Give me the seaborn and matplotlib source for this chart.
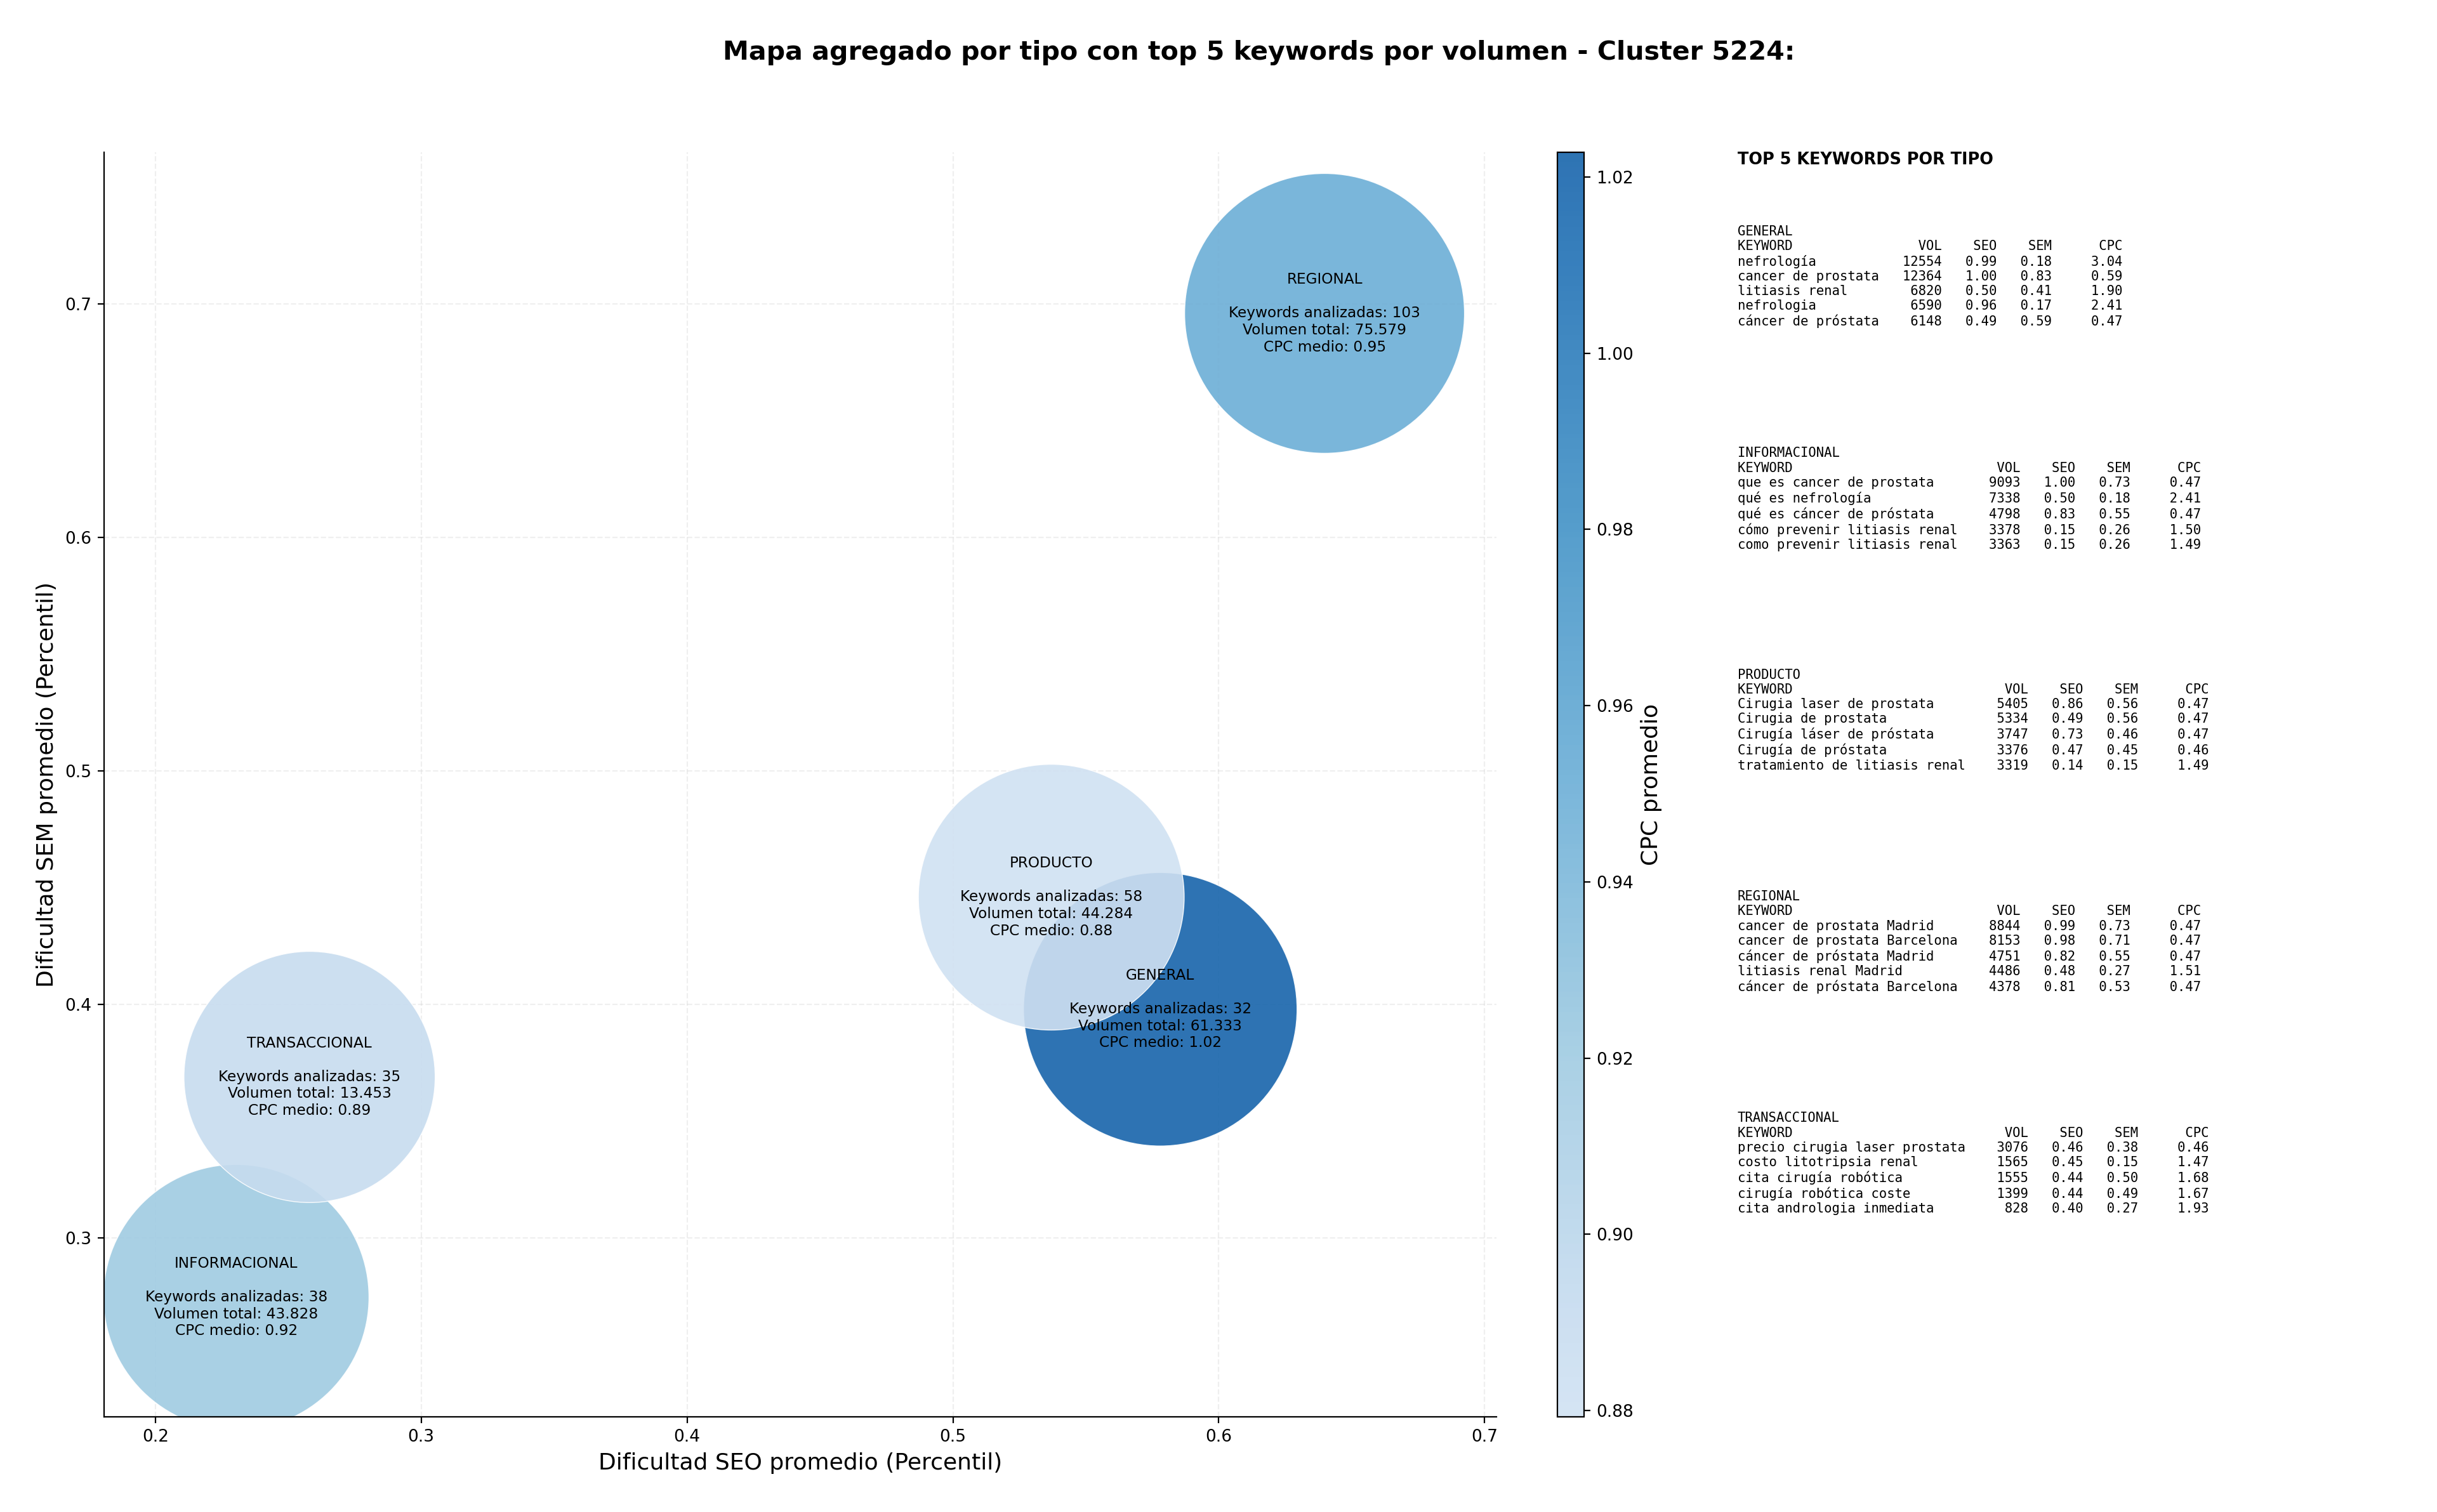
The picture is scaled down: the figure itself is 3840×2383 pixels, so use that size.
import numpy as np
import pandas as pd
import matplotlib
import matplotlib.pyplot as plt
import matplotlib.colors as mcolors
import seaborn as sns

# Datos agregados por tipo de keyword
TIPOS = ["GENERAL", "INFORMACIONAL", "PRODUCTO", "REGIONAL", "TRANSACCIONAL"]
SEO_MEDIO = [0.578, 0.2304, 0.537, 0.6398, 0.258]
SEM_MEDIO = [0.398, 0.2747, 0.446, 0.696, 0.369]
CPC_MEDIO = [1.0228, 0.92, 0.8793, 0.95, 0.89]
N_KEYWORDS = [32, 38, 58, 103, 35]
VOLUMEN = [61333, 43828, 44284, 75579, 13453]

# Top 5 keywords por tipo: (keyword, volumen, seo, sem, cpc)
TOP_GENERAL = [
    ("nefrología", 12554, 0.99, 0.18, 3.04),
    ("cancer de prostata", 12364, 1.00, 0.83, 0.59),
    ("litiasis renal", 6820, 0.50, 0.41, 1.90),
    ("nefrologia", 6590, 0.96, 0.17, 2.41),
    ("cáncer de próstata", 6148, 0.49, 0.59, 0.47),
]
TOP_INFORMACIONAL = [
    ("que es cancer de prostata", 9093, 1.00, 0.73, 0.47),
    ("qué es nefrología", 7338, 0.50, 0.18, 2.41),
    ("qué es cáncer de próstata", 4798, 0.83, 0.55, 0.47),
    ("cómo prevenir litiasis renal", 3378, 0.15, 0.26, 1.50),
    ("como prevenir litiasis renal", 3363, 0.15, 0.26, 1.49),
]
TOP_PRODUCTO = [
    ("Cirugia laser de prostata", 5405, 0.86, 0.56, 0.47),
    ("Cirugia de prostata", 5334, 0.49, 0.56, 0.47),
    ("Cirugía láser de próstata", 3747, 0.73, 0.46, 0.47),
    ("Cirugía de próstata", 3376, 0.47, 0.45, 0.46),
    ("tratamiento de litiasis renal", 3319, 0.14, 0.15, 1.49),
]
TOP_REGIONAL = [
    ("cancer de prostata Madrid", 8844, 0.99, 0.73, 0.47),
    ("cancer de prostata Barcelona", 8153, 0.98, 0.71, 0.47),
    ("cáncer de próstata Madrid", 4751, 0.82, 0.55, 0.47),
    ("litiasis renal Madrid", 4486, 0.48, 0.27, 1.51),
    ("cáncer de próstata Barcelona", 4378, 0.81, 0.53, 0.47),
]
TOP_TRANSACCIONAL = [
    ("precio cirugia laser prostata", 3076, 0.46, 0.38, 0.46),
    ("costo litotripsia renal", 1565, 0.45, 0.15, 1.47),
    ("cita cirugía robótica", 1555, 0.44, 0.50, 1.68),
    ("cirugía robótica coste", 1399, 0.44, 0.49, 1.67),
    ("cita andrologia inmediata", 828, 0.40, 0.27, 1.93),
]
TOP_KEYWORDS = [TOP_GENERAL, TOP_INFORMACIONAL, TOP_PRODUCTO, TOP_REGIONAL, TOP_TRANSACCIONAL]

ALPHA = 0.9


def tabla_top(tipo, filas):
    w = max(len(f[0]) for f in filas) + 2
    lineas = [tipo, f"{'KEYWORD':<{w}}{'VOL':>6}{'SEO':>7}{'SEM':>7}{'CPC':>9}"]
    for kw, vol, seo, sem, cpc in filas:
        lineas.append(f"{kw:<{w}}{vol:>6}{seo:>7.2f}{sem:>7.2f}{cpc:>9.2f}")
    return "\n".join(lineas)


def main():
    df = pd.DataFrame({
        "tipo": TIPOS, "seo": SEO_MEDIO, "sem": SEM_MEDIO,
        "cpc": CPC_MEDIO, "n": N_KEYWORDS, "vol": VOLUMEN,
    })

    sns.set_style("white")
    plt.rcParams["font.family"] = ["DejaVu Sans"]
    for k in ["text.color", "axes.labelcolor", "xtick.color", "ytick.color", "axes.edgecolor"]:
        plt.rcParams[k] = "black"

    fig = plt.figure(figsize=(19.2, 11.915), dpi=200)
    ax = fig.add_axes([0.0427, 0.0630, 0.5714, 0.8363])
    cax = fig.add_axes([0.639, 0.0630, 0.0109, 0.8363])

    # Blues recortado (sin el blanco ni el azul marino)
    base = matplotlib.colormaps["Blues"]
    cmap = mcolors.ListedColormap(base(np.linspace(0.2, 0.8, 256)))
    norm = mcolors.Normalize(vmin=df["cpc"].min(), vmax=df["cpc"].max())

    sns.scatterplot(data=df, x="seo", y="sem", hue="cpc", size="vol",
                    sizes=(20300, 25200), palette=cmap, hue_norm=norm,
                    alpha=ALPHA, edgecolor="white", linewidth=0.5,
                    legend=False, ax=ax)

    for _, r in df.iterrows():
        vol_txt = f"{r['vol']:,}".replace(",", ".")
        ax.text(r["seo"], r["sem"],
                f"{r['tipo']}\n\nKeywords analizadas: {r['n']}\n"
                f"Volumen total: {vol_txt}\nCPC medio: {r['cpc']:.2f}",
                ha="center", va="center", multialignment="center", fontsize=8.4)

    ax.set_xlim(0.1807, 0.7045)
    ax.set_ylim(0.2235, 0.765)
    ax.set_xticks([0.2, 0.3, 0.4, 0.5, 0.6, 0.7])
    ax.set_yticks([0.3, 0.4, 0.5, 0.6, 0.7])
    ax.grid(True, linestyle="--", alpha=0.3)
    ax.tick_params(labelsize=9.5, length=3.5, width=0.8, bottom=True, left=True)
    ax.set_xlabel("Dificultad SEO promedio (Percentil)", fontsize=13)
    ax.set_ylabel("Dificultad SEM promedio (Percentil)", fontsize=13)
    sns.despine(ax=ax)

    # Barra de color con el mismo alpha aplicado sobre blanco
    cols = cmap(np.linspace(0, 1, 256))
    cols[:, :3] = ALPHA * cols[:, :3] + (1 - ALPHA)
    sm = plt.cm.ScalarMappable(norm=norm, cmap=mcolors.ListedColormap(cols))
    cb = fig.colorbar(sm, cax=cax)
    cb.set_ticks([0.88, 0.90, 0.92, 0.94, 0.96, 0.98, 1.00, 1.02])
    cb.ax.yaxis.set_major_formatter(matplotlib.ticker.FormatStrFormatter("%.2f"))
    cb.ax.tick_params(labelsize=9.5)
    cb.set_label("CPC promedio", fontsize=13)

    fig.suptitle("Mapa agregado por tipo con top 5 keywords por volumen - Cluster 5224:",
                 x=0.5167, y=0.965, fontsize=14.8, fontweight="bold", va="center")

    fig.text(0.713, 0.8996, "TOP 5 KEYWORDS POR TIPO", fontsize=9.2,
             fontweight="bold", va="top", ha="left")
    for i, (tipo, filas) in enumerate(zip(TIPOS, TOP_KEYWORDS)):
        fig.text(0.713, 0.851 - i * 0.1466, tabla_top(tipo, filas),
                 family="DejaVu Sans Mono", fontsize=7.43, va="top", ha="left")

    fig.savefig("out.png", dpi=200)


if __name__ == "__main__":
    main()
